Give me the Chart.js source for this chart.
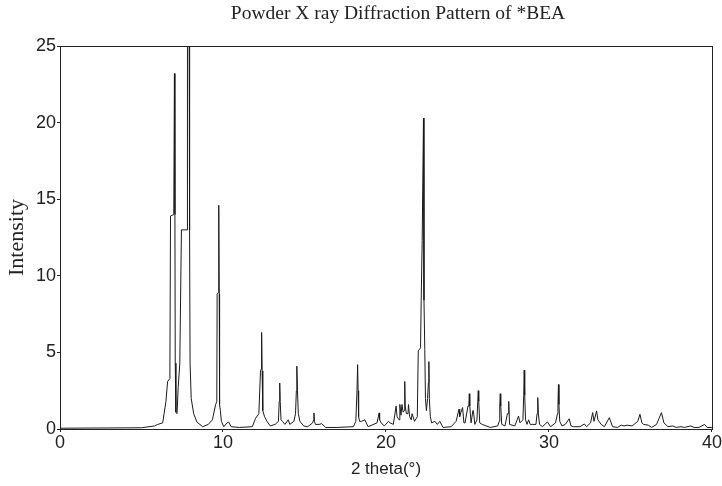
<!DOCTYPE html>
<html>
<head>
<meta charset="utf-8">
<script src="https://cdn.jsdelivr.net/npm/chart.js@4.4.0/dist/chart.umd.min.js"></script>
<style>
  html, body { margin: 0; padding: 0; background: #fff; }
  #wrap { width: 722px; height: 486px; }
</style>
</head>
<body>
<div id="wrap"><canvas id="xrd" width="722" height="486"></canvas></div>
<script>
// 2 theta (deg) and intensity
const twoTheta = [
  0, 5.0, 5.8, 6.0, 6.3, 6.5, 6.6, 6.74, 6.78, 6.98, 7.02, 7.05, 7.07, 7.11, 7.18, 7.25, 7.35, 7.45, 7.8, 7.82, 7.92, 7.95, 7.98, 8.05, 8.2, 8.4, 8.75, 9.1, 9.35,
  9.55, 9.62, 9.64, 9.71, 9.74, 9.77, 9.79, 9.84, 9.9, 10.05, 10.25, 10.35, 10.5, 11.0, 11.8, 12.0, 12.2, 12.3, 12.34, 12.37, 12.4, 12.44, 12.55, 12.7, 12.9,
  13.2, 13.4, 13.45, 13.48, 13.51, 13.56, 13.65, 13.8, 14.0, 14.1, 14.35, 14.45, 14.5, 14.53, 14.57, 14.62, 14.72, 14.95, 15.2, 15.5, 15.56, 15.58, 15.61, 15.67, 15.9, 16.05, 16.3,
  17.0, 18.0, 18.15, 18.22, 18.26, 18.29, 18.32, 18.38, 18.5, 18.7, 18.9, 19.45, 19.58, 19.61, 19.7, 19.9, 20.15, 20.25, 20.45, 20.62, 20.68, 20.8, 20.85, 20.92, 20.98, 21.05, 21.12, 21.15, 21.18,
  21.25, 21.35, 21.38, 21.45, 21.55, 21.6, 21.75, 21.92, 21.98, 22.12, 22.16, 22.22, 22.27, 22.3, 22.33, 22.38, 22.42, 22.48, 22.55, 22.6, 22.63, 22.66, 22.72, 22.8, 23.0, 23.15, 23.3, 23.5,
  24.0, 24.3, 24.48, 24.52, 24.6, 24.7, 24.78, 24.85, 25.03, 25.08, 25.11, 25.14, 25.22, 25.33, 25.36, 25.45, 25.58, 25.63, 25.66, 25.69, 25.75, 25.9, 26.4, 26.85, 26.95, 26.98, 27.01, 27.04, 27.1,
  27.3, 27.45, 27.5, 27.53, 27.58, 27.9, 28.05, 28.13, 28.22, 28.4, 28.45, 28.48, 28.51, 28.56, 28.65, 28.75, 28.85, 29.0, 29.2, 29.27, 29.31, 29.35, 29.42, 29.6, 29.9,
  30.1, 30.4, 30.52, 30.55, 30.58, 30.61, 30.66, 30.8, 31.0, 31.24, 31.35, 31.5, 31.9, 32.17, 32.3, 32.55, 32.68, 32.76, 32.92, 33.0, 33.2, 33.4,
  33.7, 33.9, 34.2, 34.43, 34.6, 34.8, 35.1, 35.45, 35.58, 35.7, 35.8, 36.09, 36.3, 36.6, 36.9, 37.05, 37.3, 37.6, 37.8, 38.1, 38.3,
  38.7, 38.9, 39.2, 39.55, 39.7, 40
];
const intensity = [
  0.05, 0.08, 0.2, 0.3, 0.4, 1.8, 3.1, 3.3, 13.9, 14.0, 23.2, 14.0, 4.3, 1.1, 1.0, 2.7, 4.3, 13.0, 13.0, 27, 27, 13.0, 4.3, 2.0, 1.0, 0.45, 0.15, 0.3, 0.6,
  1.6, 1.8, 8.8, 8.9, 14.6, 8.8, 1.6, 1.2, 0.5, 0.15, 0.4, 0.45, 0.15, 0.1, 0.15, 0.7, 1.0, 3.8, 3.9, 6.3, 3.8, 1.2, 0.8, 0.5, 0.2,
  0.3, 0.5, 1.8, 3.0, 1.8, 0.6, 0.5, 0.3, 0.6, 0.3, 0.5, 1.0, 2.5, 4.1, 2.5, 1.0, 0.5, 0.2, 0.15, 0.4, 0.6, 1.05, 0.5, 0.3, 0.3, 0.35, 0.1,
  0.1, 0.15, 0.5, 2.5, 4.2, 2.5, 0.8, 0.5, 0.5, 0.6, 0.15, 0.4, 1.05, 0.6, 0.4, 0.2, 0.5, 0.4, 0.3, 1.5, 0.8, 0.6, 1.6, 0.9, 1.6, 1.1, 1.2, 3.1, 1.5,
  1.0, 1.0, 1.6, 0.8, 0.6, 1.0, 0.5, 0.8, 5.1, 5.3, 8.4, 12.3, 12.3, 20.3, 8.4, 5.2, 2.0, 1.2, 2.0, 3.0, 4.4, 2.0, 0.8, 0.4, 0.5, 0.3, 0.5, 0.1,
  0.15, 0.5, 1.3, 0.8, 1.1, 1.4, 0.4, 0.4, 1.5, 1.5, 2.3, 1.5, 0.4, 1.2, 1.2, 0.3, 0.6, 1.8, 2.5, 1.8, 0.4, 0.3, 0.1, 0.2, 0.5, 1.5, 2.3, 1.5, 0.3,
  0.2, 1.0, 1.0, 1.8, 0.3, 0.2, 0.6, 0.85, 0.4, 0.6, 2.2, 3.84, 2.2, 0.6, 0.3, 0.6, 0.3, 0.3, 0.3, 1.0, 2.05, 1.0, 0.3, 0.15, 0.46,
  0.15, 0.4, 1.0, 1.6, 2.9, 1.6, 0.5, 0.2, 0.3, 0.67, 0.2, 0.15, 0.15, 0.33, 0.15, 0.4, 1.07, 0.5, 1.18, 0.6, 0.3, 0.15,
  0.74, 0.15, 0.1, 0.25, 0.2, 0.25, 0.2, 0.5, 0.96, 0.4, 0.3, 0.25, 0.1, 0.3, 1.07, 0.4, 0.15, 0.2, 0.1, 0.15, 0.1,
  0.2, 0.1, 0.1, 0.3, 0.1, 0.1
];
const xTicks = [0, 10, 20, 30, 40];
const yTicks = [0, 5, 10, 15, 20, 25];

const titleText = "Powder X ray Diffraction Pattern of *BEA";
const xTitle = "2 theta(°)";
const yTitle = "Intensity";

const points = twoTheta.map(function (t, i) { return { x: t, y: intensity[i] }; });

// title is drawn by hand so it can sit a bit right of centre like the scan,
// plus the closed box round the plot
const framePlugin = {
  id: 'scanFrame',
  afterDraw: function (chart) {
    const c = chart.ctx;
    const a = chart.chartArea;
    c.save();
    c.strokeStyle = '#222';
    c.lineWidth = 1;
    c.strokeRect(Math.round(a.left) + 0.5, Math.round(a.top) + 0.5, Math.round(a.right - a.left), Math.round(a.bottom - a.top));
    c.font = '19.5px "Liberation Serif", serif';
    c.fillStyle = '#222';
    c.textAlign = 'center';
    c.textBaseline = 'middle';
    c.fillText(titleText, 398, 14);
    c.restore();
  }
};

const ctx = document.getElementById('xrd').getContext('2d');
new Chart(ctx, {
  type: 'scatter',
  data: {
    datasets: [{
      data: points,
      showLine: true,
      borderColor: '#1a1a1a',
      borderWidth: 1,
      pointRadius: 0,
      tension: 0
    }]
  },
  options: {
    responsive: false,
    animation: false,
    layout: { padding: { top: 46, right: 8, left: 4, bottom: 6 } },
    plugins: { legend: { display: false }, tooltip: { enabled: false }, title: { display: false } },
    scales: {
      x: {
        type: 'linear',
        min: xTicks[0],
        max: xTicks[xTicks.length - 1],
        afterBuildTicks: function (s) { s.ticks = xTicks.map(function (v) { return { value: v }; }); },
        afterFit: function (s) { s.height = 51; },
        grid: { display: true, drawOnChartArea: false, tickLength: 3, color: '#222' },
        border: { display: true, color: '#222', width: 1 },
        ticks: { color: '#222', font: { family: '"Liberation Sans", sans-serif', size: 18 }, padding: 0, maxRotation: 0 },
        title: { display: true, text: xTitle, color: '#222', font: { family: '"Liberation Sans", sans-serif', size: 17 }, padding: { top: 0, bottom: 0 } }
      },
      y: {
        min: yTicks[0],
        max: yTicks[yTicks.length - 1],
        afterBuildTicks: function (s) { s.ticks = yTicks.map(function (v) { return { value: v }; }); },
        afterFit: function (s) { s.width = 56; },
        grid: { display: true, drawOnChartArea: false, tickLength: 3, color: '#222' },
        border: { display: true, color: '#222', width: 1 },
        ticks: { color: '#222', font: { family: '"Liberation Sans", sans-serif', size: 18 }, padding: 1 },
        title: { display: true, text: yTitle, color: '#222', font: { family: '"Liberation Serif", serif', size: 22 }, padding: 0 }
      }
    }
  },
  plugins: [framePlugin]
});
</script>
</body>
</html>
